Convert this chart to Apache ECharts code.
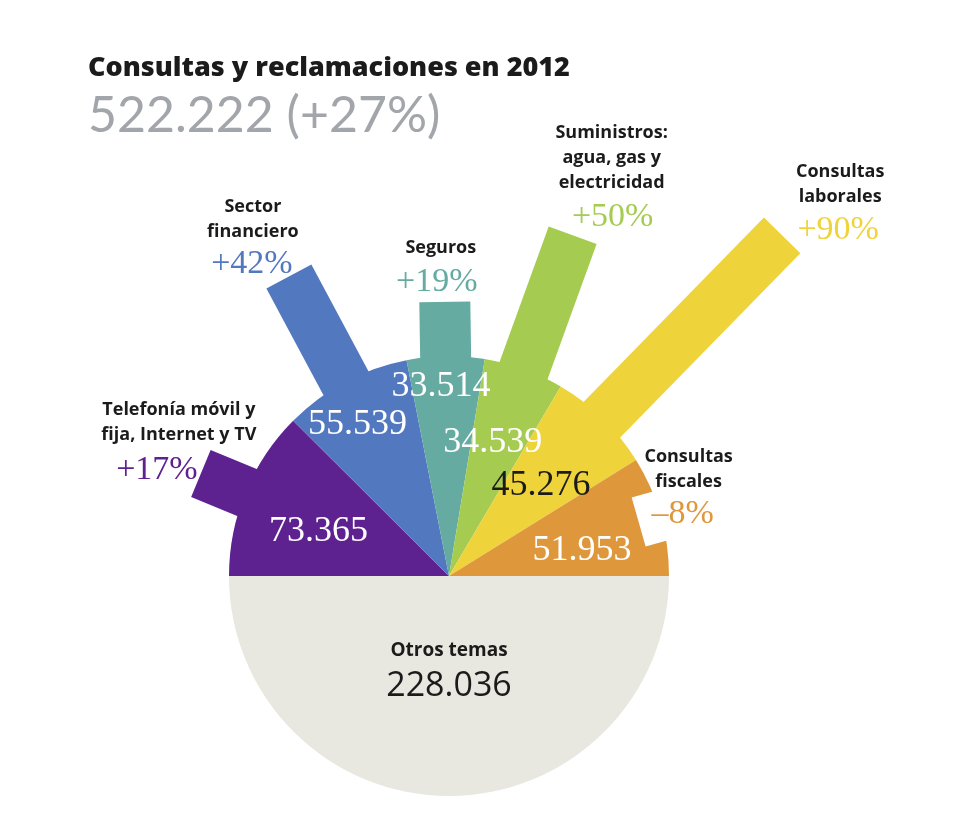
<!DOCTYPE html>
<html>
<head>
<meta charset="utf-8">
<title>Consultas y reclamaciones en 2012</title>
<script src="https://cdn.jsdelivr.net/npm/echarts@6/dist/echarts.min.js"></script>
<style>
html,body{margin:0;padding:0;background:#fff;}
#chart{width:960px;height:839px;}
</style>
</head>
<body>
<div id="chart"></div>
<script>
// datos
var categories=['Telefonía móvil y\nfija, Internet y TV','Sector\nfinanciero','Seguros','Suministros:\nagua, gas y\nelectricidad','Consultas\nlaborales','Consultas\nfiscales'];
var values=[73365,55539,33514,34539,45276,51953];
var growth=[17,42,19,50,90,-8];
var otherName='Otros temas';
var otherValue=228036;
var totalValue=522222;
var totalGrowth=27;

// estilos
var colors=['#5e2190','#5278bf','#66aba2','#a5cc50','#efd33b','#df973b'];
var otherColor='#e8e7e0';
var valueColors=['#fff','#fff','#fff','#fff','#1b1b1b','#fff'];
// posicion de textos respecto al final de la flecha (px)
var nameOffset=[[-22,-51],[-36,-57],[-4,-54],[39,-77],[58,-51],[28,-46]];
var pctOffset=[[-44,-3],[-37,-12],[-8,-20],[40,-18],[56,-5],[22,-2]];
// cifra interior: [desvio de angulo, radio]
var valuePos=[[3.6,138],[3,177],[1.5,190],[1.7,140],[-1.2,129],[-4.9,135.5]];

var CX=449,CY=576,R=220,BAR_W=51,PX_PER_PCT=2.85;

function fmt(n){return String(n).replace(/\B(?=(\d{3})+(?!\d))/g,'.');}
function fmtPct(g){return (g>0?'+':'–')+Math.abs(g)+'%';}

var topTotal=values.reduce(function(a,b){return a+b;},0);
var mid=[];   //angulo medio de cada sector (el semicirculo de arriba)
(function(){
	var acc=0;
	for(var i=0;i<values.length;i++){
		var a0=180-acc/topTotal*180;
		acc+=values[i];
		var a1=180-acc/topTotal*180;
		mid.push((a0+a1)/2);
	}
})();

function pt(deg,r,s){
	var t=deg*Math.PI/180;
	return [CX+Math.cos(t)*r+Math.sin(t)*s,CY-Math.sin(t)*r+Math.cos(t)*s];
}

function renderArrow(params,api){
	var i=params.dataIndex;
	var g=api.value(2),a=mid[i],hw=BAR_W/2;
	var tip=R+g*PX_PER_PCT;
	var r0=g>0?R-4:tip,r1=g>0?tip:R+3;
	var end=pt(a,Math.max(R,tip),0);
	var vp=pt(a+valuePos[i][0],valuePos[i][1],0);
	return {
		type:'group',
		children:[
			{
				type:'polygon',
				shape:{points:[pt(a,r0,-hw),pt(a,r1,-hw),pt(a,r1,hw),pt(a,r0,hw)]},
				style:{fill:g>0?colors[i]:'#fff'}
			},
			{
				type:'text',
				x:end[0]+nameOffset[i][0],y:end[1]+nameOffset[i][1],
				style:{text:categories[i],fill:'#1b1b1b',fontFamily:'Open Sans',fontWeight:700,fontSize:18,lineHeight:25,
					align:'center',verticalAlign:'middle',textAlign:'center',textVerticalAlign:'middle'}
			},
			{
				type:'text',
				x:end[0]+pctOffset[i][0],y:end[1]+pctOffset[i][1],
				style:{text:fmtPct(g),fill:colors[i],fontFamily:'Liberation Serif',fontSize:34,
					align:'center',verticalAlign:'middle',textAlign:'center',textVerticalAlign:'middle'}
			},
			{
				type:'text',
				x:vp[0],y:vp[1],
				style:{text:fmt(api.value(1)),fill:valueColors[i],fontFamily:'Liberation Serif',fontSize:36,
					align:'center',verticalAlign:'middle',textAlign:'center',textVerticalAlign:'middle'}
			}
		]
	};
}

var chart=echarts.init(document.getElementById('chart'));
chart.setOption({
	animation:false,
	title:{
		left:88,top:52,padding:0,itemGap:5,
		text:'Consultas y reclamaciones en 2012',
		subtext:fmt(totalValue)+' (+'+totalGrowth+'%)',
		textStyle:{fontFamily:'Open Sans',fontWeight:800,fontSize:27,lineHeight:32,color:'#1b1b1b'},
		subtextStyle:{fontFamily:'Lato',fontWeight:400,fontSize:50,lineHeight:54,color:'#a2a6ab'}
	},
	series:[
		{
			type:'pie',z:2,silent:true,
			center:[CX,CY],radius:R,
			startAngle:180,endAngle:0,clockwise:true,
			label:{show:false},labelLine:{show:false},
			emphasis:{disabled:true},
			data:values.map(function(v,i){
				return {value:v,name:categories[i],itemStyle:{color:colors[i]}};
			})
		},
		{
			type:'pie',z:2,silent:true,
			center:[CX,CY],radius:R,
			startAngle:0,endAngle:-180,clockwise:true,
			emphasis:{disabled:true},
			labelLine:{show:false},
			label:{
				show:true,position:'inside',padding:[0,0,36,0],
				formatter:function(){return '{n|'+otherName+'}\n{v|'+fmt(otherValue)+'}';},
				rich:{
					n:{fontFamily:'Open Sans',fontWeight:700,fontSize:19,lineHeight:30,color:'#1b1b1b',align:'center'},
					v:{fontFamily:'Open Sans',fontSize:34,lineHeight:40,color:'#1b1b1b',align:'center'}
				}
			},
			data:[{value:otherValue,name:otherName,itemStyle:{color:otherColor}}]
		},
		{
			type:'custom',z:3,silent:true,
			coordinateSystem:'none',
			renderItem:renderArrow,
			data:values.map(function(v,i){return [i,v,growth[i]];})
		}
	]
});
</script>
</body>
</html>
